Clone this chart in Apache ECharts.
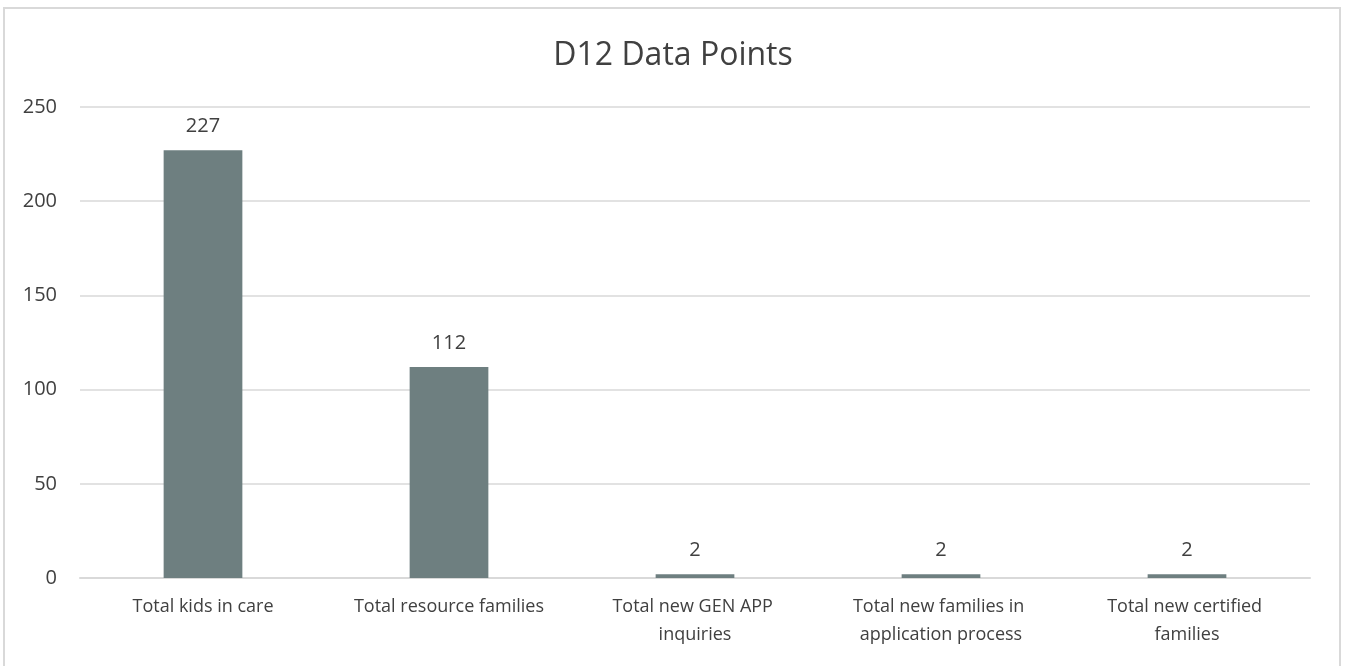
<!DOCTYPE html>
<html>
<head>
<meta charset="utf-8">
<title>D12 Data Points</title>
<script src="https://cdn.jsdelivr.net/npm/echarts@6/dist/echarts.min.js"></script>
<style>
  html, body { margin: 0; padding: 0; background: #fff; }
  #frame {
    position: absolute; left: 3px; top: 7px; width: 1338px; height: 670px;
    border: 2px solid #d9d9d9; box-sizing: border-box;
  }
  #chart { position: absolute; left: 0; top: 0; width: 1346px; height: 666px; }
</style>
</head>
<body>
<div id="frame"></div>
<div id="chart"></div>
<script>
const categories = [
  'Total kids in care',
  'Total resource families',
  'Total new GEN APP inquiries',
  'Total new families in application process',
  'Total new certified families'
]
const values = [227, 112, 2, 2, 2]
const yTicks = { min: 0, max: 250, interval: 50 }

const font = '"Open Sans", "Noto Sans", sans-serif'
const textColor = '#404040'

let chart = echarts.init(document.getElementById('chart'))
let option = {
  animation: false,
  title: {
    text: 'D12 Data Points',
    left: 'center',
    top: 35,
    textStyle: { fontFamily: font, fontSize: 32, fontWeight: 'normal', color: textColor }
  },
  grid: { left: 80, right: 36, top: 107, bottom: 88, containLabel: false },
  xAxis: {
    type: 'category',
    data: categories,
    axisLine: { lineStyle: { color: '#d9d9d9', width: 2 } },
    axisTick: { show: false },
    axisLabel: {
      interval: 0,
      margin: 15,
      width: 205,
      overflow: 'break',
      lineHeight: 28,
      fontFamily: font,
      fontSize: 18,
      color: textColor
    }
  },
  yAxis: {
    type: 'value',
    min: yTicks.min,
    max: yTicks.max,
    interval: yTicks.interval,
    axisLine: { show: false },
    axisTick: { show: false },
    splitLine: { lineStyle: { color: '#d9d9d9', width: 1.5 } },
    axisLabel: { margin: 23, fontFamily: font, fontSize: 20, color: textColor }
  },
  series: [{
    type: 'bar',
    data: values,
    barWidth: '32%',
    itemStyle: { color: '#6e7f80' },
    label: {
      show: true,
      position: 'top',
      distance: 14,
      fontFamily: font,
      fontSize: 20,
      color: textColor
    }
  }]
}
chart.setOption(option)
</script>
</body>
</html>
